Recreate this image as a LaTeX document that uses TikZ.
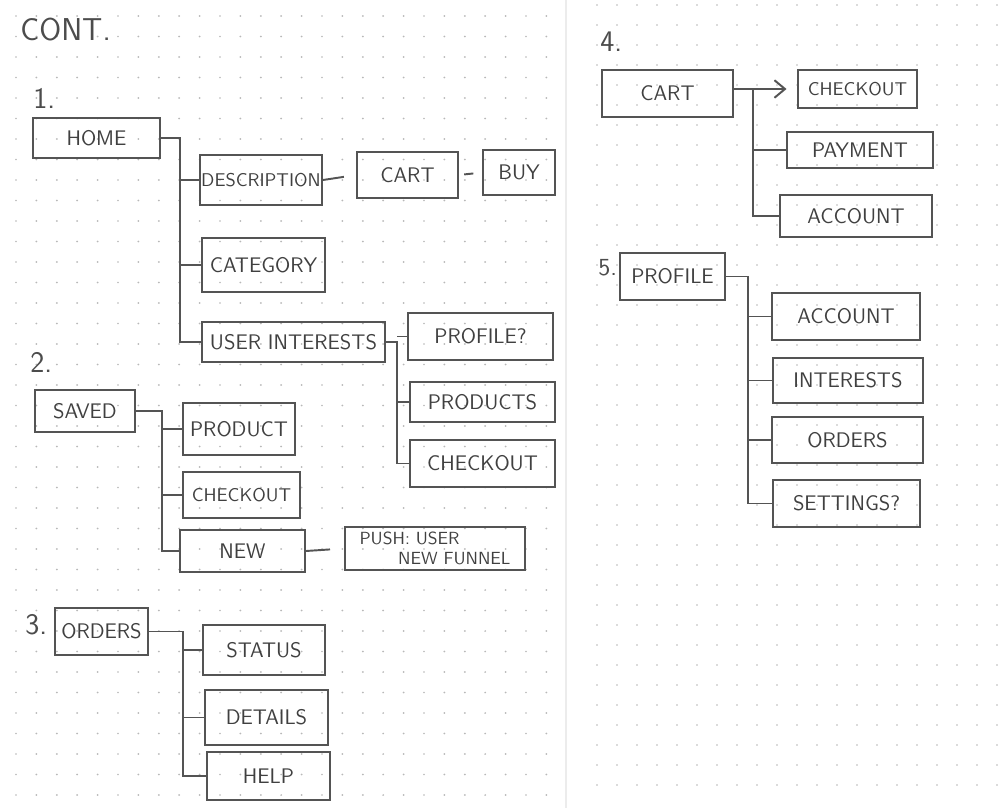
\documentclass[tikz,border=0pt]{standalone}
\usetikzlibrary{arrows.meta}
\definecolor{pencil}{gray}{0.33}
\definecolor{dotc}{gray}{0.72}
\tikzset{
  box/.style={draw=pencil, line width=1.1pt, inner sep=0pt, text=black!75, font=\sffamily\fontsize{12}{14}\selectfont},
  small/.style={font=\sffamily\fontsize{10.5}{12}\selectfont},
  conn/.style={draw=pencil, line width=1.1pt},
  num/.style={text=black!70, font=\sffamily\fontsize{17}{19}\selectfont, anchor=west, inner sep=0pt}
}
% name, x1, y1, x2, y2, extra style, text
\newcommand\mkbox[7][]{\node[box, #1, minimum width={(#4-#2)*0.02cm}, minimum height={(#5-#3)*0.02cm}] (#2) at ({(#4+#6)/2},{(#5+#7)/2}) {};}
\newcommand\bx[7][]{\node[box, #1, minimum width={(#5-#3)*0.02cm}, minimum height={(#6-#4)*0.02cm}] (#2) at ({(#3+#5)/2},{(#4+#6)/2}) {#7};}
\begin{document}
\begin{tikzpicture}[x=0.02cm, y=-0.02cm]
\useasboundingbox (0,0) rectangle (1000,808);
\fill[white] (0,0) rectangle (1000,808);
% dotted paper
\foreach \i in {0,...,26} \foreach \j in {0,...,38}
  \fill[dotc] ({16+\i*20.4},{16+\j*20.5}) circle[radius=0.55pt];
\foreach \i in {0,...,20} \foreach \j in {0,...,39}
  \fill[dotc] ({597+\i*20},{5+\j*20}) circle[radius=0.55pt];
\draw[gray!15, line width=0.6pt] (566,0) -- (566,808);

% headings
\node[num, font=\sffamily\fontsize{18}{20}\selectfont] (cont) at (20,30) {CONT.};
\node[num] (n1) at (33,98) {1.};
\node[num] (n2) at (30,362) {2.};
\node[num] (n3) at (25,625) {3.};
\node[num] (n4) at (600,42) {4.};
\node[num, font=\sffamily\fontsize{14}{16}\selectfont] (n5) at (598,268) {5.};

% section 1
\bx{home}{33}{118}{160}{158}{HOME}
\bx[small]{desc}{200}{155}{322}{205}{DESCRIPTION}
\bx{cart1}{357}{152}{458}{198}{CART}
\bx{buy}{483}{150}{555}{195}{BUY}
\bx{cat}{202}{238}{325}{292}{CATEGORY}
\bx{uint}{202}{322}{385}{362}{USER INTERESTS}
\bx{prof1}{408}{313}{553}{360}{PROFILE?}
\bx{prods}{410}{382}{555}{422}{PRODUCTS}
\bx{chk1}{410}{440}{555}{487}{CHECKOUT}
\coordinate (t1) at (180,0);
\coordinate (t1b) at (397,0);
\draw[conn] (home.east) -| (t1 |- uint.west) -- (uint.west);
\draw[conn] (t1 |- desc.west) -- (desc.west);
\draw[conn] (t1 |- cat.west) -- (cat.west);
\draw[conn, shorten >=7pt] (desc.east) -- (cart1.west);
\draw[conn, shorten >=5pt, shorten <=3pt] (cart1.east) -- (buy.west);
\draw[conn] (uint.east) -| (t1b |- chk1.west) -- (chk1.west);
\draw[conn] (t1b |- prof1.west) -- (prof1.west);
\draw[conn] (t1b |- prods.west) -- (prods.west);

% section 2
\bx{saved}{35}{390}{135}{432}{SAVED}
\bx{prod}{183}{403}{295}{455}{PRODUCT}
\bx[small]{chk2}{183}{472}{300}{518}{CHECKOUT}
\bx{new}{180}{530}{305}{572}{NEW}
\node[box, minimum width={180*0.02cm}, minimum height={43*0.02cm}, align=left, font=\sffamily\fontsize{10}{11}\selectfont] (push) at (435,548.5) {PUSH: USER\\\hspace*{2.2em}NEW FUNNEL};
\coordinate (t2) at (162,0);
\draw[conn] (saved.east) -| (t2 |- new.west) -- (new.west);
\draw[conn] (t2 |- prod.west) -- (prod.west);
\draw[conn] (t2 |- chk2.west) -- (chk2.west);
\draw[conn, shorten >=8pt] (new.east) -- (push.west);

% section 3
\bx{orders}{55}{608}{148}{655}{ORDERS}
\bx{status}{203}{625}{325}{675}{STATUS}
\bx{details}{205}{690}{328}{745}{DETAILS}
\bx{help}{207}{752}{330}{800}{HELP}
\coordinate (t3) at (183,0);
\draw[conn] (orders.east) -| (t3 |- help.west) -- (help.west);
\draw[conn] (t3 |- status.west) -- (status.west);
\draw[conn] (t3 |- details.west) -- (details.west);

% section 4
\bx{cart4}{602}{70}{733}{117}{CART}
\bx[small]{chk4}{798}{70}{917}{108}{CHECKOUT}
\bx{pay}{787}{132}{933}{168}{PAYMENT}
\bx{acc4}{780}{195}{932}{237}{ACCOUNT}
\coordinate (t4) at (753,0);
\draw[conn, -{Straight Barb[length=6pt,width=10pt]}, shorten >=6pt] (cart4.east |- chk4.west) -- (chk4.west);
\draw[conn] (t4 |- chk4.west) |- (acc4.west);
\draw[conn] (t4 |- pay.west) -- (pay.west);

% section 5
\bx{prof5}{620}{253}{725}{300}{PROFILE}
\bx{acc5}{772}{293}{920}{340}{ACCOUNT}
\bx{int5}{773}{358}{923}{403}{INTERESTS}
\bx{ord5}{772}{417}{923}{463}{ORDERS}
\bx{set5}{773}{480}{920}{527}{SETTINGS?}
\coordinate (t5) at (748,0);
\draw[conn] (prof5.east) -| (t5 |- set5.west) -- (set5.west);
\draw[conn] (t5 |- acc5.west) -- (acc5.west);
\draw[conn] (t5 |- int5.west) -- (int5.west);
\draw[conn] (t5 |- ord5.west) -- (ord5.west);
\end{tikzpicture}
\end{document}
